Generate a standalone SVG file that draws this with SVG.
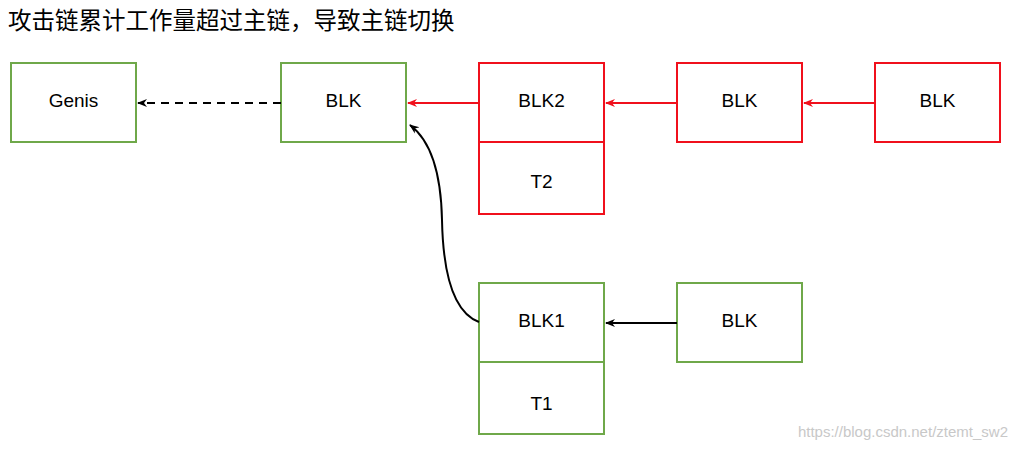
<svg xmlns="http://www.w3.org/2000/svg" width="1018" height="450" viewBox="0 0 1018 450">
<style>
text{font-family:"Liberation Sans","Noto Sans CJK SC",sans-serif;font-size:19px;fill:#000;text-anchor:middle;dominant-baseline:central}
.g{fill:#fff;stroke:#6fa84a;stroke-width:2}
.r{fill:#fff;stroke:#f0101c;stroke-width:2}
</style>
<defs>
<marker id="ab" markerWidth="10" markerHeight="10" refX="9" refY="5" orient="auto" markerUnits="userSpaceOnUse"><path d="M0,1 L10,5 L0,9 L3,5Z" fill="#000"/></marker>
<marker id="ar" markerWidth="10" markerHeight="10" refX="9" refY="5" orient="auto" markerUnits="userSpaceOnUse"><path d="M0,1 L10,5 L0,9 L3,5Z" fill="#f0101c"/></marker>
</defs>
<text x="8" y="21" style="text-anchor:start;font-size:23.5px">攻击链累计工作量超过主链，导致主链切换</text>
<g id="genis"><rect class="g" x="11" y="63" width="125" height="79"/><text x="73.500" y="100">Genis</text></g>
<g id="blk0"><rect class="g" x="281" y="63" width="125" height="79"/><text x="343.500" y="100">BLK</text></g>
<g id="blk2"><rect class="r" x="479" y="63" width="125" height="79"/><text x="541.500" y="100">BLK2</text></g>
<g id="t2"><rect class="r" x="479" y="142" width="125" height="72"/><text x="541.500" y="181">T2</text></g>
<g id="blk3"><rect class="r" x="677" y="63" width="125" height="79"/><text x="739.500" y="100">BLK</text></g>
<g id="blk4"><rect class="r" x="875" y="63" width="125" height="79"/><text x="937.500" y="100">BLK</text></g>
<g id="blk1"><rect class="g" x="479" y="283" width="125" height="79"/><text x="541.500" y="320">BLK1</text></g>
<g id="t1"><rect class="g" x="479" y="362" width="125" height="72"/><text x="541.500" y="403">T1</text></g>
<g id="blk5"><rect class="g" x="677" y="283" width="125" height="79"/><text x="739.500" y="320">BLK</text></g>
<g id="connectors" fill="none" stroke-width="2">
<path d="M281,103 H138" stroke="#000" stroke-dasharray="8,6" marker-end="url(#ab)"/>
<path d="M479,103 H408" stroke="#f0101c" marker-end="url(#ar)"/>
<path d="M677,103 H606" stroke="#f0101c" marker-end="url(#ar)"/>
<path d="M875,103 H804" stroke="#f0101c" marker-end="url(#ar)"/>
<path d="M677,323 H606" stroke="#000" marker-end="url(#ab)"/>
<path d="M479,322 C452,312 443,270 442,220 C441,170 430,140 410,125" stroke="#000" marker-end="url(#ab)"/>
</g>
<text x="1008" y="431" style="text-anchor:end;font-size:15px;fill:#c8c8c8">https://blog.csdn.net/ztemt_sw2</text>
</svg>
